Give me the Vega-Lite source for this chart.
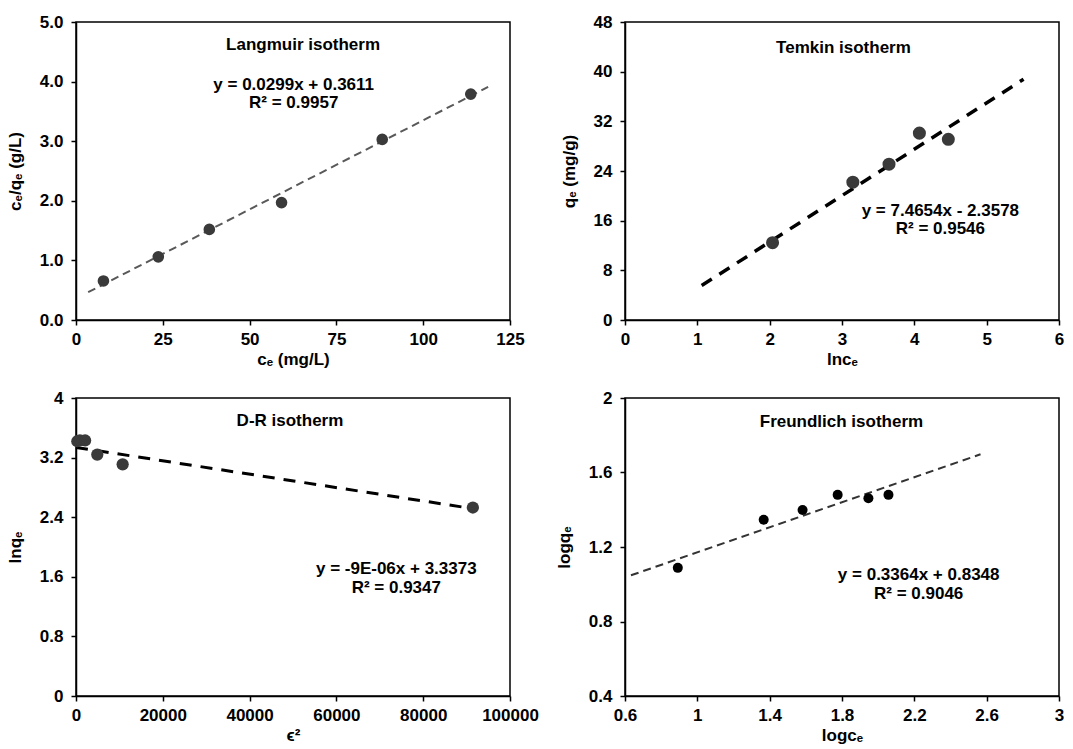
{
  "$schema": "https://vega.github.io/schema/vega-lite/v6.json",
  "background": "white",
  "padding": {"left": 5, "top": 12, "right": 5, "bottom": 5},
  "columns": 2,
  "spacing": {"row": 78, "column": 115},
  "bounds": "flush",
  "config": {
    "font": "Liberation Sans",
    "view": {"stroke": "black", "strokeWidth": 1.5},
    "axis": {
      "grid": false, "domainColor": "black", "domainWidth": 1.5,
      "tickColor": "black", "tickWidth": 1.5, "tickSize": 5,
      "labelFont": "Liberation Sans", "labelFontSize": 17, "labelFontWeight": "bold", "labelColor": "black",
      "titleFont": "Liberation Sans", "titleFontSize": 17, "titleFontWeight": "bold", "titleColor": "black",
      "labelFlush": false, "labelOverlap": false, "labelBound": false
    },
    "axisX": {"labelPadding": 6, "titlePadding": 4},
    "axisY": {"labelPadding": 8, "titlePadding": 15}
  },
  "datasets": {
    "lang_pts": [{"x": 7.9, "y": 0.655}, {"x": 23.7, "y": 1.06}, {"x": 38.4, "y": 1.52}, {"x": 59.2, "y": 1.97}, {"x": 88.2, "y": 3.03}, {"x": 113.7, "y": 3.79}],
    "lang_fit": [{"x": 3.5, "y": 0.466}, {"x": 118.7, "y": 3.91}],
    "temkin_pts": [{"x": 2.04, "y": 12.45}, {"x": 3.15, "y": 22.2}, {"x": 3.65, "y": 25.1}, {"x": 4.07, "y": 30.1}, {"x": 4.47, "y": 29.1}],
    "temkin_fit": [{"x": 1.06, "y": 5.55}, {"x": 5.51, "y": 38.78}],
    "dr_pts": [{"x": 300, "y": 3.42}, {"x": 900, "y": 3.43}, {"x": 2100, "y": 3.43}, {"x": 4900, "y": 3.24}, {"x": 10750, "y": 3.11}, {"x": 91440, "y": 2.53}],
    "dr_fit": [{"x": 0, "y": 3.337}, {"x": 91300, "y": 2.516}],
    "fr_pts": [{"x": 0.892, "y": 1.088}, {"x": 1.367, "y": 1.346}, {"x": 1.582, "y": 1.399}, {"x": 1.776, "y": 1.48}, {"x": 1.946, "y": 1.462}, {"x": 2.057, "y": 1.48}],
    "fr_fit": [{"x": 0.633, "y": 1.048}, {"x": 2.566, "y": 1.698}]
  },
  "concat": [
    {
      "width": 434, "height": 298,
      "layer": [
        {"data": {"name": "lang_fit"}, "mark": {"type": "line", "color": "#595959", "strokeWidth": 2, "strokeDash": [8, 5]},
         "encoding": {
           "x": {"field": "x", "type": "quantitative", "scale": {"domain": [0, 125], "nice": false, "zero": false},
                 "axis": {"title": "cₑ (mg/L)", "values": [0, 25, 50, 75, 100, 125], "format": "d"}},
           "y": {"field": "y", "type": "quantitative", "scale": {"domain": [0, 5], "nice": false, "zero": false},
                 "axis": {"title": "cₑ/qₑ (g/L)", "values": [0, 1, 2, 3, 4, 5], "format": ".1f"}}}},
        {"data": {"name": "lang_pts"}, "mark": {"type": "circle", "color": "#3a3a3a", "opacity": 1, "size": 135},
         "encoding": {"x": {"field": "x", "type": "quantitative"}, "y": {"field": "y", "type": "quantitative"}}},
        {"data": {"values": [{"t": "Langmuir isotherm"}]}, "mark": {"type": "text", "align": "center", "baseline": "middle", "font": "Liberation Sans", "fontSize": 17, "fontWeight": "bold", "color": "black"},
         "encoding": {"x": {"datum": 65.4}, "y": {"datum": 4.61}, "text": {"field": "t", "type": "nominal"}}},
        {"data": {"values": [{"t": "y = 0.0299x + 0.3611"}]}, "mark": {"type": "text", "align": "center", "baseline": "middle", "font": "Liberation Sans", "fontSize": 17, "fontWeight": "bold", "color": "black"},
         "encoding": {"x": {"datum": 62.7}, "y": {"datum": 3.94}, "text": {"field": "t", "type": "nominal"}}},
        {"data": {"values": [{"t": "R² = 0.9957"}]}, "mark": {"type": "text", "align": "center", "baseline": "middle", "font": "Liberation Sans", "fontSize": 17, "fontWeight": "bold", "color": "black"},
         "encoding": {"x": {"datum": 62.7}, "y": {"datum": 3.64}, "text": {"field": "t", "type": "nominal"}}}
      ]
    },
    {
      "width": 434, "height": 298,
      "layer": [
        {"data": {"name": "temkin_fit"}, "mark": {"type": "line", "color": "black", "strokeWidth": 3.5, "strokeDash": [12, 9]},
         "encoding": {
           "x": {"field": "x", "type": "quantitative", "scale": {"domain": [0, 6], "nice": false, "zero": false},
                 "axis": {"title": "lncₑ", "values": [0, 1, 2, 3, 4, 5, 6], "format": "d"}},
           "y": {"field": "y", "type": "quantitative", "scale": {"domain": [0, 48], "nice": false, "zero": false},
                 "axis": {"title": "qₑ (mg/g)", "values": [0, 8, 16, 24, 32, 40, 48], "format": "d"}}}},
        {"data": {"name": "temkin_pts"}, "mark": {"type": "circle", "color": "#3a3a3a", "opacity": 1, "size": 170},
         "encoding": {"x": {"field": "x", "type": "quantitative"}, "y": {"field": "y", "type": "quantitative"}}},
        {"data": {"values": [{"t": "Temkin isotherm"}]}, "mark": {"type": "text", "align": "center", "baseline": "middle", "font": "Liberation Sans", "fontSize": 17, "fontWeight": "bold", "color": "black"},
         "encoding": {"x": {"datum": 3.02}, "y": {"datum": 43.8}, "text": {"field": "t", "type": "nominal"}}},
        {"data": {"values": [{"t": "y = 7.4654x - 2.3578"}]}, "mark": {"type": "text", "align": "center", "baseline": "middle", "font": "Liberation Sans", "fontSize": 17, "fontWeight": "bold", "color": "black"},
         "encoding": {"x": {"datum": 4.36}, "y": {"datum": 17.6}, "text": {"field": "t", "type": "nominal"}}},
        {"data": {"values": [{"t": "R² = 0.9546"}]}, "mark": {"type": "text", "align": "center", "baseline": "middle", "font": "Liberation Sans", "fontSize": 17, "fontWeight": "bold", "color": "black"},
         "encoding": {"x": {"datum": 4.36}, "y": {"datum": 14.6}, "text": {"field": "t", "type": "nominal"}}}
      ]
    },
    {
      "width": 434, "height": 298,
      "layer": [
        {"data": {"name": "dr_fit"}, "mark": {"type": "line", "color": "black", "strokeWidth": 3, "strokeDash": [12, 9]},
         "encoding": {
           "x": {"field": "x", "type": "quantitative", "scale": {"domain": [0, 100000], "nice": false, "zero": false},
                 "axis": {"title": "ϵ²", "values": [0, 20000, 40000, 60000, 80000, 100000], "format": "d"}},
           "y": {"field": "y", "type": "quantitative", "scale": {"domain": [0, 4], "nice": false, "zero": false},
                 "axis": {"title": "lnqₑ", "values": [0, 0.8, 1.6, 2.4, 3.2, 4], "format": "~g"}}}},
        {"data": {"name": "dr_pts"}, "mark": {"type": "circle", "color": "#3a3a3a", "opacity": 1, "size": 150},
         "encoding": {"x": {"field": "x", "type": "quantitative"}, "y": {"field": "y", "type": "quantitative"}}},
        {"data": {"values": [{"t": "D-R isotherm"}]}, "mark": {"type": "text", "align": "center", "baseline": "middle", "font": "Liberation Sans", "fontSize": 17, "fontWeight": "bold", "color": "black"},
         "encoding": {"x": {"datum": 49300}, "y": {"datum": 3.69}, "text": {"field": "t", "type": "nominal"}}},
        {"data": {"values": [{"t": "y = -9E-06x + 3.3373"}]}, "mark": {"type": "text", "align": "center", "baseline": "middle", "font": "Liberation Sans", "fontSize": 17, "fontWeight": "bold", "color": "black"},
         "encoding": {"x": {"datum": 73800}, "y": {"datum": 1.70}, "text": {"field": "t", "type": "nominal"}}},
        {"data": {"values": [{"t": "R² = 0.9347"}]}, "mark": {"type": "text", "align": "center", "baseline": "middle", "font": "Liberation Sans", "fontSize": 17, "fontWeight": "bold", "color": "black"},
         "encoding": {"x": {"datum": 73800}, "y": {"datum": 1.455}, "text": {"field": "t", "type": "nominal"}}}
      ]
    },
    {
      "width": 434, "height": 298,
      "layer": [
        {"data": {"name": "fr_fit"}, "mark": {"type": "line", "color": "#333333", "strokeWidth": 2, "strokeDash": [8, 5]},
         "encoding": {
           "x": {"field": "x", "type": "quantitative", "scale": {"domain": [0.6, 3], "nice": false, "zero": false},
                 "axis": {"title": "logcₑ", "values": [0.6, 1, 1.4, 1.8, 2.2, 2.6, 3], "format": "~g"}},
           "y": {"field": "y", "type": "quantitative", "scale": {"domain": [0.4, 2], "nice": false, "zero": false},
                 "axis": {"title": "logqₑ", "values": [0.4, 0.8, 1.2, 1.6, 2], "format": "~g"}}}},
        {"data": {"name": "fr_pts"}, "mark": {"type": "circle", "color": "black", "opacity": 1, "size": 100},
         "encoding": {"x": {"field": "x", "type": "quantitative"}, "y": {"field": "y", "type": "quantitative"}}},
        {"data": {"values": [{"t": "Freundlich isotherm"}]}, "mark": {"type": "text", "align": "center", "baseline": "middle", "font": "Liberation Sans", "fontSize": 17, "fontWeight": "bold", "color": "black"},
         "encoding": {"x": {"datum": 1.797}, "y": {"datum": 1.871}, "text": {"field": "t", "type": "nominal"}}},
        {"data": {"values": [{"t": "y = 0.3364x + 0.8348"}]}, "mark": {"type": "text", "align": "center", "baseline": "middle", "font": "Liberation Sans", "fontSize": 17, "fontWeight": "bold", "color": "black"},
         "encoding": {"x": {"datum": 2.224}, "y": {"datum": 1.05}, "text": {"field": "t", "type": "nominal"}}},
        {"data": {"values": [{"t": "R² = 0.9046"}]}, "mark": {"type": "text", "align": "center", "baseline": "middle", "font": "Liberation Sans", "fontSize": 17, "fontWeight": "bold", "color": "black"},
         "encoding": {"x": {"datum": 2.224}, "y": {"datum": 0.948}, "text": {"field": "t", "type": "nominal"}}}
      ]
    }
  ]
}
